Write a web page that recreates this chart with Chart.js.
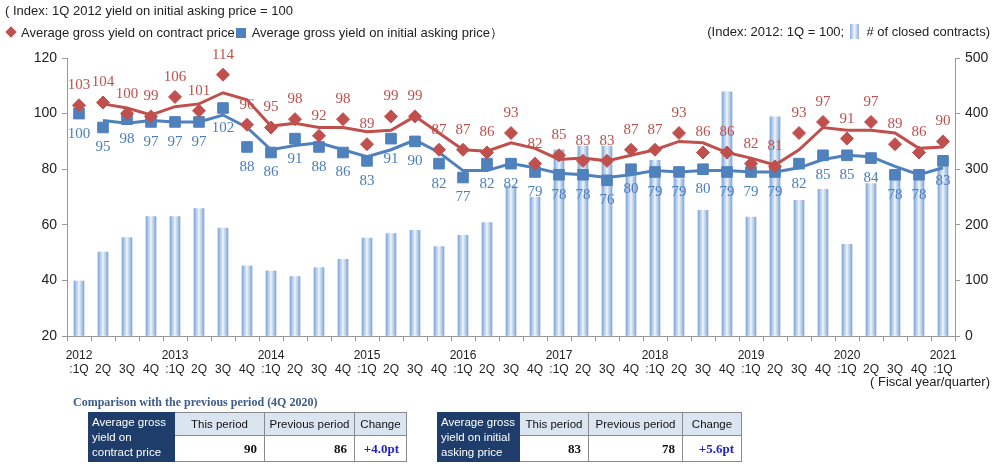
<!DOCTYPE html>
<html lang="en">
<head>
<meta charset="UTF-8">
<title>Gross yield index</title>
<script src="https://cdn.jsdelivr.net/npm/chart.js"></script>
<style>
  body { margin: 0; background: #fff; font-family: 'Liberation Sans', Arial, sans-serif; }
  .wrap { position: relative; width: 1000px; height: 468px; overflow: hidden; }
  #chart { position: absolute; left: 0; top: 0; }
  .txt { position: absolute; white-space: nowrap; font-size: 13px; color: #222; }
  .dia { display: inline-block; width: 8px; height: 8px; background: #c0504d; transform: rotate(45deg); margin: 0 6px 1px 3px; }
  .sq { display: inline-block; width: 10px; height: 10px; background: #4f81bd; margin: 0 6px -1px 1px; }
  .baricon { display: inline-block; width: 9px; height: 15px; margin: 0 4px -3px 2px;
             background: linear-gradient(90deg, #8eb1de, #eef4fb 50%, #8eb1de); }
  .cmp { position: absolute; left: 73px; top: 395px; font: bold 12px 'Liberation Serif', serif; color: #3d5c8c; }
  table { position: absolute; top: 412px; border-collapse: collapse; table-layout: fixed; font-size: 11.5px; }
  td { border: 1px solid #8a8a8a; padding: 0 4px; white-space: nowrap; overflow: hidden; }
  td.head { background: #1f3d6b; color: #fff; line-height: 15px; text-align: left; border-color: #1f3d6b; padding: 1px 3px; }
  td.hd { background: #dbe5f1; text-align: center; height: 22px; color: #111; }
  td.val { text-align: right; height: 25px; font: bold 13px 'Liberation Serif', serif; color: #111; padding-right: 7px; }
  td.chg { color: #1f1fcc; }
</style>
</head>
<body>
<div class="wrap">
  <canvas id="chart" width="1000" height="468"></canvas>

  <div class="txt" style="left:5px; top:3px;">( Index: 1Q 2012 yield on initial asking price = 100</div>
  <div class="txt" style="left:4px; top:24px;"><span class="dia"></span>Average gross yield on contract price<span class="sq"></span>Average gross yield on initial asking price）</div>
  <div class="txt" style="right:10px; top:24px;">(Index: 2012: 1Q = 100; <span class="baricon"></span> # of closed contracts)</div>
  <div class="txt" style="right:10px; top:374px;">( Fiscal year/quarter)</div>

  <div class="cmp">Comparison with the previous period (4Q 2020)</div>
  <table style="left:88px; width:318px;">
    <colgroup><col style="width:86px"><col style="width:90px"><col style="width:90px"><col style="width:52px"></colgroup>
    <tr>
      <td class="head" rowspan="2">Average gross<br>yield on<br>contract price</td>
      <td class="hd">This period</td>
      <td class="hd">Previous period</td>
      <td class="hd">Change</td>
    </tr>
    <tr>
      <td class="val">90</td>
      <td class="val">86</td>
      <td class="val chg">+4.0pt</td>
    </tr>
  </table>
  <table style="left:437px; width:304px;">
    <colgroup><col style="width:82px"><col style="width:69px"><col style="width:94px"><col style="width:59px"></colgroup>
    <tr>
      <td class="head" rowspan="2">Average gross<br>yield on initial<br>asking price</td>
      <td class="hd">This period</td>
      <td class="hd">Previous period</td>
      <td class="hd">Change</td>
    </tr>
    <tr>
      <td class="val">83</td>
      <td class="val">78</td>
      <td class="val chg">+5.6pt</td>
    </tr>
  </table>
</div>

<script>
// fiscal quarters, 2012 1Q .. 2021 1Q
const years = ['2012', '2013', '2014', '2015', '2016', '2017', '2018', '2019', '2020', '2021'];
const quarterNames = [':1Q', '2Q', '3Q', '4Q'];

// index values (left axis)
const contractYield = [103, 104, 100, 99, 106, 101, 114, 96, 95, 98, 92, 98, 89, 99, 99, 87, 87, 86, 93, 82,
                       85, 83, 83, 87, 87, 93, 86, 86, 82, 81, 93, 97, 91, 97, 89, 86, 90];
const askingYield = [100, 95, 98, 97, 97, 97, 102, 88, 86, 91, 88, 86, 83, 91, 90, 82, 77, 82, 82, 79,
                     78, 78, 76, 80, 79, 79, 80, 79, 79, 79, 82, 85, 85, 84, 78, 78, 83];

// trend lines as drawn in the picture
const contractTrend = [null, 103.5, 102, 99.5, 102.5, 103.5, 107.5, 105, 95.5, 96.5, 95, 95, 93.5, 94, 99, 93,
                       87, 86.5, 89.5, 87.5, 83.5, 84, 83, 85, 87, 90, 89.5, 86, 84, 81.5, 87, 95, 94, 94, 93, 87.5, 88];
const askingTrend = [null, 97.5, 96.5, 97.5, 97, 97, 99.5, 95, 87, 88.5, 89.5, 87, 84.5, 87, 90.5, 86,
                     79.5, 79.5, 82, 80.5, 78.5, 78, 77, 78, 79.5, 79, 79.5, 79.5, 79, 79, 80.5, 83.5, 85, 84.5, 81, 78, 80.5];

// # of closed contracts (right axis)
const closedContracts = [99, 151, 177, 215, 215, 229, 194, 126, 117, 107, 123, 138, 176, 184, 190, 161, 181, 204, 270, 250,
                         335, 341, 341, 295, 316, 283, 226, 439, 214, 394, 244, 264, 165, 274, 298, 286, 304];

const labels = [];
years.forEach(y => {
  quarterNames.forEach((q, k) => {
    if (y === '2021' && k > 0) return;
    labels.push(k === 0 ? [y, q] : ['', q]);
  });
});

const RED = '#c0504d';
const BLUE = '#4f81bd';

// numbers above the diamonds / below the squares
const valueLabels = {
  id: 'valueLabels',
  afterDatasetsDraw(chart) {
    const ctx = chart.ctx;
    ctx.save();
    ctx.font = '15px "Liberation Serif", "Times New Roman", serif';
    ctx.textAlign = 'center';
    ctx.textBaseline = 'middle';
    [[0, RED, -20], [1, '#4a7cc0', 20]].forEach(([di, color, dy]) => {
      const meta = chart.getDatasetMeta(di);
      ctx.fillStyle = color;
      meta.data.forEach((pt, i) => {
        ctx.fillText(String(chart.data.datasets[di].data[i]), pt.x, pt.y + dy);
      });
    });
    ctx.restore();
  }
};

// light bar with darker edges
function barFill(c) {
  if (c.type !== 'data' || !c.chart.scales.x) return '#cfdff3';
  const x = c.chart.scales.x.getPixelForValue(c.dataIndex);
  if (!isFinite(x)) return '#cfdff3';
  const g = c.chart.ctx.createLinearGradient(x - 5, 0, x + 5, 0);
  g.addColorStop(0, '#7fa6d9');
  g.addColorStop(0.5, '#eef4fb');
  g.addColorStop(1, '#7fa6d9');
  return g;
}

Chart.defaults.font.family = "'Liberation Sans', Arial, sans-serif";

new Chart(document.getElementById('chart').getContext('2d'), {
  type: 'bar',
  data: {
    labels: labels,
    datasets: [
      {
        type: 'line', label: 'Average gross yield on contract price', data: contractYield,
        showLine: false, pointStyle: 'rectRot', pointRadius: 6.5, pointBackgroundColor: RED,
        pointBorderColor: RED, borderColor: RED, yAxisID: 'y', order: 1
      },
      {
        type: 'line', label: 'Average gross yield on initial asking price', data: askingYield,
        showLine: false, pointStyle: 'rect', pointRadius: 7.5, pointBackgroundColor: BLUE,
        pointBorderColor: BLUE, borderColor: BLUE, yAxisID: 'y', order: 1
      },
      {
        type: 'line', label: 'contract trend', data: contractTrend, borderColor: RED, borderWidth: 3,
        pointRadius: 0, tension: 0, yAxisID: 'y', order: 2
      },
      {
        type: 'line', label: 'asking trend', data: askingTrend, borderColor: BLUE, borderWidth: 3,
        pointRadius: 0, tension: 0, yAxisID: 'y', order: 2
      },
      {
        type: 'bar', label: '# of closed contracts', data: closedContracts, backgroundColor: barFill,
        borderWidth: 0, barThickness: 10, yAxisID: 'y1', order: 5
      }
    ]
  },
  options: {
    responsive: false,
    animation: false,
    layout: { padding: { top: 58, bottom: 92, left: 0, right: 0 } },
    plugins: {
      legend: { display: false },
      tooltip: { enabled: false }
    },
    scales: {
      x: {
        offset: true,
        grid: { offset: true, drawOnChartArea: false, tickLength: 5, color: '#999' },
        border: { color: '#999' },
        ticks: { font: { size: 12, lineHeight: 1.2 }, color: '#222', maxRotation: 0, autoSkip: false, padding: 7 },
        afterFit(s) { s.height = 40; }
      },
      y: {
        position: 'left', min: 20, max: 120,
        ticks: { stepSize: 20, font: { size: 14 }, color: '#222', padding: 5 },
        grid: { drawOnChartArea: false, tickLength: 5, color: '#999' },
        border: { color: '#999' },
        afterFit(s) { s.width = 67; }
      },
      y1: {
        position: 'right', min: 0, max: 500,
        ticks: { stepSize: 100, font: { size: 14 }, color: '#222', padding: 5 },
        grid: { drawOnChartArea: false, tickLength: 5, color: '#999' },
        border: { color: '#999' },
        afterFit(s) { s.width = 45; }
      }
    }
  },
  plugins: [valueLabels]
});
</script>
</body>
</html>
